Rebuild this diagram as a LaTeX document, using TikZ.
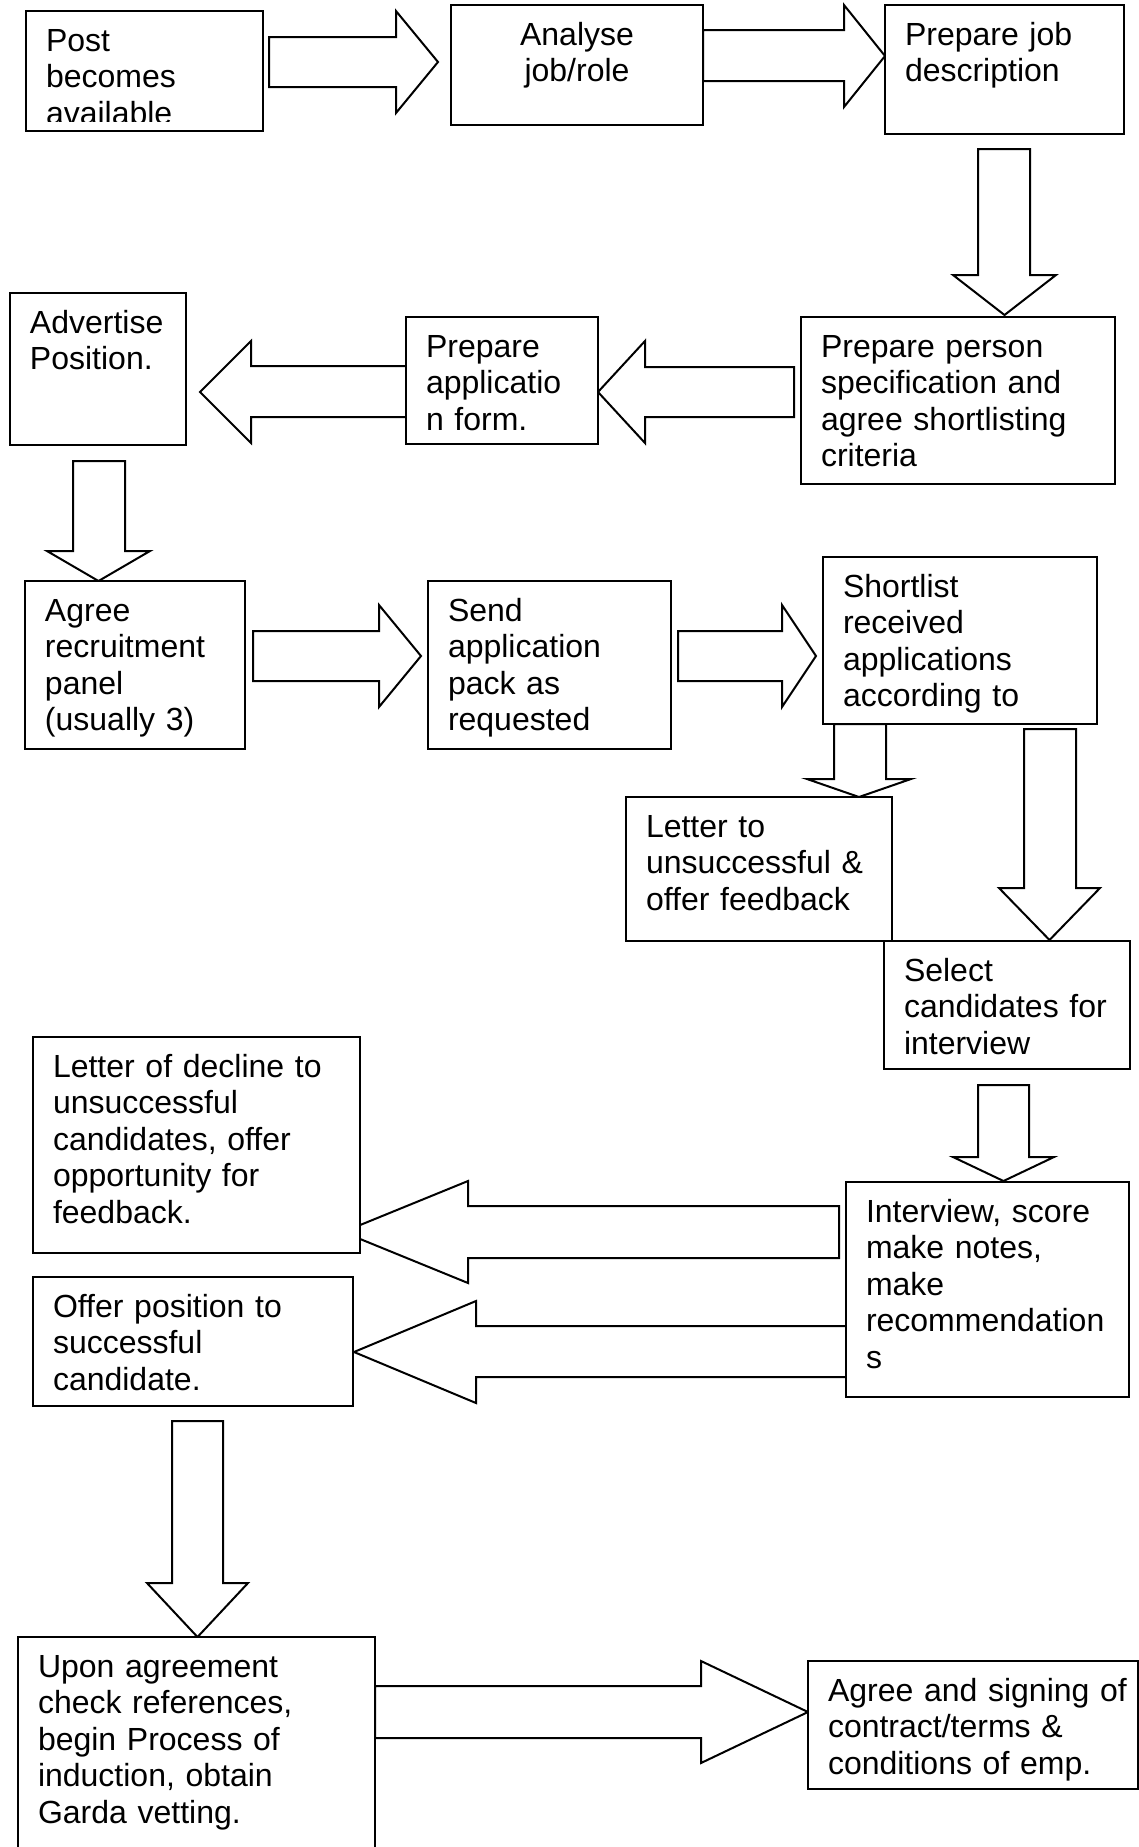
\documentclass[tikz,border=0pt]{standalone}
\usepackage{fontspec}
\setmainfont{Liberation Sans}
\tikzset{
  box/.style={draw, fill=white, line width=0.75pt, inner sep=0pt, outer sep=0pt},
  txt/.style={inner sep=0pt, outer sep=0pt, align=left, text width=300pt,
              font=\fontsize{12}{13.7}\selectfont},
  ctxt/.style={inner sep=0pt, outer sep=0pt, align=center, text width=300pt,
              font=\fontsize{12}{13.7}\selectfont},
  blk/.style={draw, fill=white, line width=0.75pt, line join=miter}
}
% box: name, left, top, right, bottom, text
\newcommand\flowbox[6]{%
  \node[box, anchor=north west, minimum width={(#4-#2)*0.375pt},
        minimum height={(#5-#3)*0.375pt}] (#1) at (#2,#3) {};
  \node[txt, anchor=base west] (#1t) at (#2+20,#3+40) {#6};
}
% horizontal block arrow: x start, x head base, x tip, shaft y1, shaft y2, head y1, head y2
\newcommand\harrowshape[7]{%
  \draw[blk] (#1,#4) -- (#2,#4) -- (#2,#6) -- (#3,{(#6+#7)/2}) -- (#2,#7)
    -- (#2,#5) -- (#1,#5) -- cycle;
}
% vertical block arrow: y start, y head base, y tip, shaft x1, shaft x2, head x1, head x2
\newcommand\varrowshape[7]{%
  \draw[blk] (#4,#1) -- (#4,#2) -- (#6,#2) -- ({(#6+#7)/2},#3) -- (#7,#2)
    -- (#5,#2) -- (#5,#1) -- cycle;
}
\begin{document}
\begin{tikzpicture}[x=0.375pt, y=-0.375pt]
\useasboundingbox (0,0) rectangle (1139,1847);
\clip (0,0) rectangle (1139,1847);
\fill[white] (0,0) rectangle (1139,1847);

% ---- block arrows (drawn first, boxes cover them)
\harrowshape{269}{396}{438}{37}{87}{11}{113}
\harrowshape{703}{844}{885}{30}{81}{5}{107}
\varrowshape{149}{275}{315}{978}{1030}{953}{1056}
\harrowshape{794}{645}{598}{367}{417}{341}{443}
\harrowshape{406}{251}{200}{366}{417}{341}{443}
\varrowshape{461}{551}{581}{73}{125}{47}{150}
\harrowshape{253}{379}{421}{631}{681}{605}{707}
\harrowshape{678}{782}{816}{631}{681}{605}{707}
\varrowshape{724}{779}{797}{834}{886}{807}{911}
\varrowshape{729}{888}{940}{1024}{1076}{999}{1100}
\varrowshape{1085}{1157}{1181}{978}{1029}{953}{1054}
\harrowshape{839}{468}{343}{1206}{1258}{1181}{1283}
\harrowshape{846}{476}{354}{1326}{1377}{1301}{1403}
\varrowshape{1421}{1583}{1637}{172}{223}{147}{248}
\harrowshape{375}{701}{808}{1686}{1738}{1661}{1763}

% ---- boxes
\node[box, anchor=north west, minimum width={(263-26)*0.375pt},
      minimum height={(131-11)*0.375pt}] (b1) at (26,11) {};
\begin{scope}
  \clip (26,11) rectangle (263,121);
  \node[txt, anchor=base west] (b1t) at (46,51) {Post\\becomes\\available};
\end{scope}

\node[box, anchor=north west, minimum width={(703-451)*0.375pt},
      minimum height={(125-5)*0.375pt}] (b2) at (451,5) {};
\node[ctxt, anchor=base] (b2t) at (577,45) {Analyse\\job/role};

\flowbox{b3}{885}{5}{1124}{134}{Prepare job\\description}
\flowbox{b4}{801}{317}{1115}{484}{Prepare person\\specification and\\agree shortlisting\\criteria}
\flowbox{b5}{406}{317}{598}{444}{Prepare\\applicatio\\n form.}
\flowbox{adv}{10}{293}{186}{445}{Advertise\\Position.}
\flowbox{b6}{25}{581}{245}{749}{Agree\\recruitment\\panel\\(usually 3)}
\flowbox{b7}{428}{581}{671}{749}{Send\\application\\pack as\\requested}
\flowbox{b8}{823}{557}{1097}{724}{Shortlist\\received\\applications\\according to}
\flowbox{b9}{626}{797}{892}{941}{Letter to\\unsuccessful \&\\offer feedback}
\flowbox{b10}{884}{941}{1130}{1069}{Select\\candidates for\\interview}
\flowbox{b12}{33}{1037}{360}{1253}{Letter of decline to\\unsuccessful\\candidates, offer\\opportunity for\\feedback.}
\flowbox{b11}{846}{1182}{1129}{1397}{Interview, score\\make notes,\\make\\recommendation\\s}
\flowbox{b13}{33}{1277}{353}{1406}{Offer position to\\successful\\candidate.}
\flowbox{b14}{18}{1637}{375}{1870}{Upon agreement\\check references,\\begin Process of\\induction, obtain\\Garda vetting.}
\flowbox{b15}{808}{1661}{1138}{1789}{Agree and signing of\\contract/terms \&\\conditions of emp.}
\end{tikzpicture}
\end{document}
